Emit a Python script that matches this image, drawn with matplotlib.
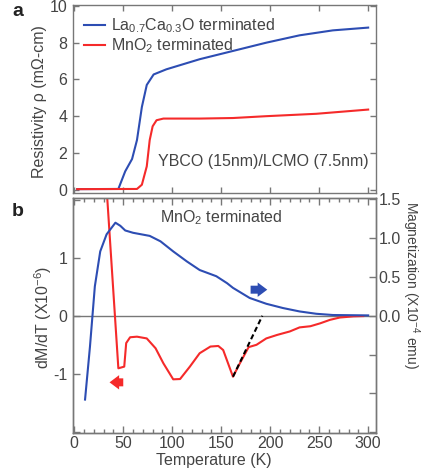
import numpy as np
import matplotlib
matplotlib.use("Agg")
import matplotlib.pyplot as plt

plt.rcParams["font.family"] = ["Liberation Sans", "DejaVu Sans"]
plt.rcParams["mathtext.fontset"] = "custom"
plt.rcParams["mathtext.rm"] = "Liberation Sans"
plt.rcParams["mathtext.it"] = "Liberation Sans:italic"
plt.rcParams["axes.unicode_minus"] = False
plt.rcParams["font.size"] = 11.5

# panel a: resistivity vs temperature
T_la = [3, 45, 52, 59, 64, 69, 74, 81, 94, 128, 162, 196, 230, 264, 300]
rho_la = [0.03, 0.04, 1.0, 1.67, 2.7, 4.5, 5.7, 6.27, 6.55, 7.1, 7.55, 8.0, 8.4, 8.67, 8.82]
T_mn = [3, 64, 69, 74, 77, 80, 84, 91, 128, 162, 196, 247, 300]
rho_mn = [0.03, 0.04, 0.27, 1.27, 2.7, 3.45, 3.78, 3.87, 3.87, 3.9, 4.0, 4.13, 4.36]

# panel b: magnetization (right axis) and dM/dT (left axis)
T_mag = [11, 16, 21, 26.5, 33, 42, 47, 52, 60, 77, 88, 101, 115, 128, 145, 156, 162,
         179, 196, 213, 230, 247, 264, 300]
mag = [-1.08, -0.40, 0.38, 0.83, 1.05, 1.2, 1.16, 1.10, 1.07, 1.03, 0.96, 0.83, 0.70,
       0.59, 0.51, 0.42, 0.36, 0.23, 0.155, 0.10, 0.056, 0.026, 0.01, 0.005]
T_dmdt = [33, 45, 51, 53, 57, 64, 74, 83, 91, 101, 108, 118, 128, 139, 147, 152, 157,
          162, 169, 178, 186, 196, 207, 220, 230, 241, 251, 261, 271, 285, 295]
dmdt = [2.2, -0.905, -0.876, -0.47, -0.37, -0.36, -0.39, -0.56, -0.82, -1.095, -1.09,
        -0.876, -0.645, -0.53, -0.52, -0.59, -0.82, -1.05, -0.82, -0.54, -0.50, -0.39,
        -0.33, -0.27, -0.20, -0.18, -0.13, -0.07, -0.03, -0.01, -0.005]
T_fit = [162, 192]
fit = [-1.05, 0.0]

blue = "#2d4db3"
red = "#f52a2a"
gray = "#777777"
tcol = "#444444"

fig = plt.figure(figsize=(4.21, 4.75), dpi=100)
W, H = 421.0, 475.0
L, R = 73 / W, 376 / W
axa = fig.add_axes([L, 1 - 193 / H, R - L, (193 - 5) / H])
axb = fig.add_axes([L, 1 - 433 / H, R - L, (433 - 198) / H])
axr = axb.twinx()

for ax in (axa, axb, axr):
    for s in ax.spines.values():
        s.set_color(gray)
        s.set_linewidth(1.0)
    ax.tick_params(colors=gray, labelcolor=tcol, direction="in", width=1.0)

# panel a
axa.plot(T_la, rho_la, color=blue, lw=1.5, label=r"La$_{0.7}$Ca$_{0.3}$O terminated")
axa.plot(T_mn, rho_mn, color=red, lw=1.5, label=r"MnO$_2$ terminated")
axa.set_xlim(-1.3, 308)
axa.set_ylim(-0.18, 10.05)
axa.set_yticks([0, 2, 4, 6, 8, 10])
axa.set_xticks(np.arange(0, 301, 50))
axa.set_xticklabels([])
axa.tick_params(top=True, right=True, length=4, pad=4)
axa.legend(loc="upper left", frameon=False, handlelength=1.3, handletextpad=0.4,
           borderaxespad=0.3, labelspacing=0.1, fontsize=11.5, labelcolor=tcol)
axa.text(300, 1.55, "YBCO (15nm)/LCMO (7.5nm)", ha="right", va="center", color=tcol)

# panel b
axb.axhline(0, color=gray, lw=1.0)
axb.plot(T_dmdt, dmdt, color=red, lw=1.5)
axb.plot(T_fit, fit, color="black", lw=1.5, ls=(0, (2.5, 1.5)))
axb.set_xlim(-1.3, 308)
axb.set_ylim(-2.02, 2.03)
axb.set_yticks([-2, -1, 0, 1, 2])
axb.set_yticklabels(["", "-1", "0", "1", ""])
axb.set_xticks(np.arange(0, 301, 50))
axb.set_xticks(np.arange(0, 301, 10), minor=True)
axb.tick_params(which="both", top=True)
axb.tick_params(which="major", length=5, pad=4)
axb.tick_params(axis="x", which="major", pad=2.5)
axb.tick_params(which="minor", length=3, direction="in", colors=gray, width=1.0)
axb.text(150, 1.69, r"MnO$_2$ terminated", ha="center", va="center", color=tcol)

axr.plot(T_mag, mag, color=blue, lw=1.5)
axr.set_ylim(-2.02 * 0.748, 2.03 * 0.748)
axr.set_yticks([-1.5, -1.0, -0.5, 0.0, 0.5, 1.0, 1.5])
axr.set_yticklabels(["", "", "", "0.0", "0.5", "1.0", "1.5"])
axr.tick_params(length=5, pad=2)

axb.annotate("", xy=(197, 0.45), xytext=(180, 0.45),
             arrowprops=dict(arrowstyle="simple,head_length=0.6,head_width=0.9,tail_width=0.5",
                             color=blue, lw=0, shrinkA=0, shrinkB=0), zorder=5)
axb.annotate("", xy=(36, -1.147), xytext=(50, -1.147),
             arrowprops=dict(arrowstyle="simple,head_length=0.6,head_width=0.9,tail_width=0.5",
                             color=red, lw=0, shrinkA=0, shrinkB=0), zorder=5)

# labels
fig.text(40 / W, 1 - 102 / H, r"Resistivity ρ (mΩ-cm)", rotation=90, ha="center",
         va="center", color=tcol)
fig.text(43 / W, 1 - 317 / H, r"dM/dT (X10$^{-6}$)", rotation=90, ha="center",
         va="center", color=tcol)
fig.text(411 / W, 1 - 285 / H, r"Magnetization (X10$^{-4}$ emu)", rotation=270,
         ha="center", va="center", color=tcol, fontsize=10)
fig.text(214 / W, 1 - 461 / H, "Temperature (K)", ha="center", va="center", color=tcol)
fig.text(12 / W, 1 - 12 / H, "a", fontsize=14, fontweight="bold", va="center", color="#222222")
fig.text(12 / W, 1 - 212 / H, "b", fontsize=14, fontweight="bold", va="center", color="#222222")

fig.savefig("out.png", dpi=100)
